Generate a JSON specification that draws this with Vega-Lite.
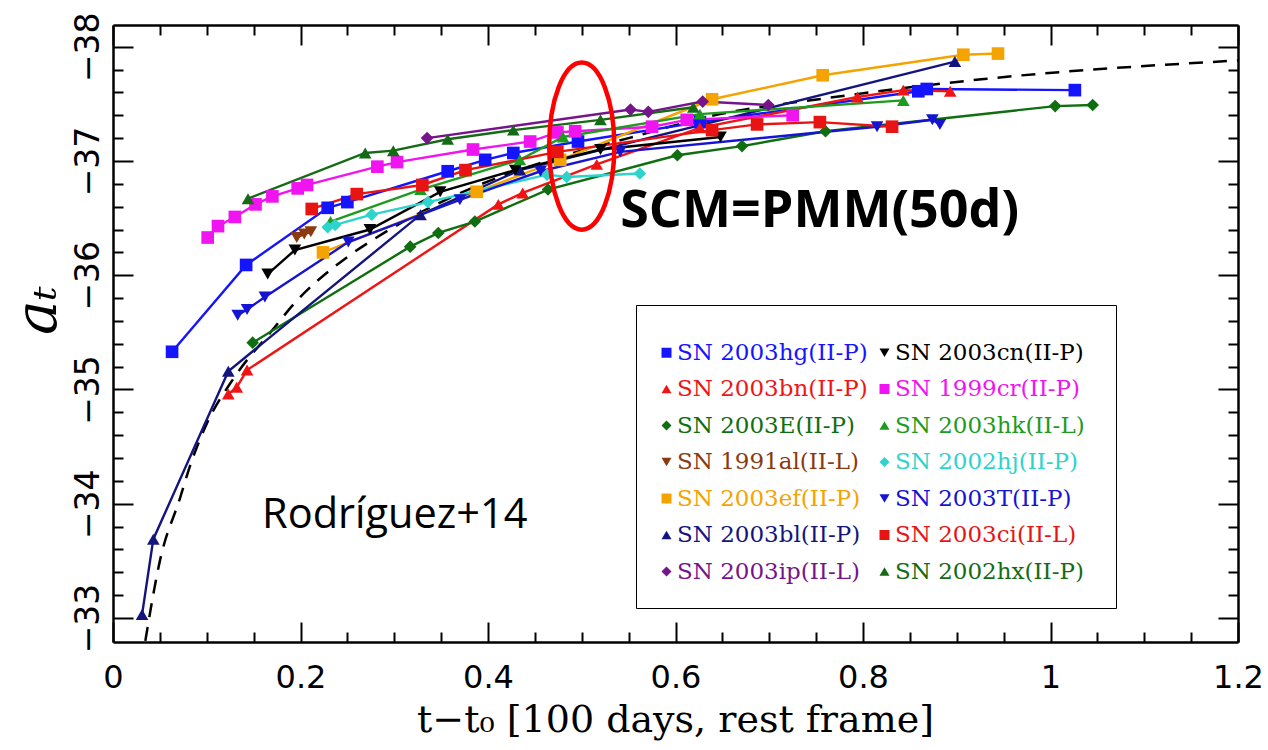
{
"$schema": "https://vega.github.io/schema/vega-lite/v6.json",
"autosize": "none",
"width": 1125, "height": 617,
"padding": {"left": 113, "top": 25, "right": 30, "bottom": 108},
"background": "white",
"config": {"view": {"stroke": null}, "axis": {"grid": false}},
"datasets": {
"sn": [
{"sn":"hg","t":0.063,"a":-35.33},{"sn":"hg","t":0.142,"a":-36.09},{"sn":"hg","t":0.229,"a":-36.59},{"sn":"hg","t":0.250,"a":-36.64},{"sn":"hg","t":0.357,"a":-36.91},{"sn":"hg","t":0.397,"a":-37.01},{"sn":"hg","t":0.427,"a":-37.07},{"sn":"hg","t":0.496,"a":-37.17},{"sn":"hg","t":0.626,"a":-37.34},{"sn":"hg","t":0.859,"a":-37.61},{"sn":"hg","t":0.868,"a":-37.63},{"sn":"hg","t":1.026,"a":-37.62},
{"sn":"bn","t":0.123,"a":-34.96},{"sn":"bn","t":0.132,"a":-35.02},{"sn":"bn","t":0.143,"a":-35.17},{"sn":"bn","t":0.411,"a":-36.62},{"sn":"bn","t":0.437,"a":-36.72},{"sn":"bn","t":0.516,"a":-36.97},{"sn":"bn","t":0.626,"a":-37.29},{"sn":"bn","t":0.794,"a":-37.56},{"sn":"bn","t":0.843,"a":-37.62},{"sn":"bn","t":0.893,"a":-37.61},
{"sn":"E","t":0.149,"a":-35.41},{"sn":"E","t":0.317,"a":-36.25},{"sn":"E","t":0.347,"a":-36.37},{"sn":"E","t":0.386,"a":-36.47},{"sn":"E","t":0.464,"a":-36.75},{"sn":"E","t":0.602,"a":-37.05},{"sn":"E","t":0.671,"a":-37.13},{"sn":"E","t":0.760,"a":-37.26},{"sn":"E","t":1.005,"a":-37.48},{"sn":"E","t":1.045,"a":-37.49},
{"sn":"al","t":0.196,"a":-36.33},{"sn":"al","t":0.204,"a":-36.36},{"sn":"al","t":0.211,"a":-36.38},
{"sn":"ef","t":0.224,"a":-36.20},{"sn":"ef","t":0.388,"a":-36.73},{"sn":"ef","t":0.477,"a":-37.01},{"sn":"ef","t":0.639,"a":-37.54},{"sn":"ef","t":0.757,"a":-37.75},{"sn":"ef","t":0.907,"a":-37.93},{"sn":"ef","t":0.944,"a":-37.94},
{"sn":"bl","t":0.031,"a":-33.03},{"sn":"bl","t":0.043,"a":-33.69},{"sn":"bl","t":0.123,"a":-35.16},{"sn":"bl","t":0.328,"a":-36.53},{"sn":"bl","t":0.434,"a":-36.92},{"sn":"bl","t":0.898,"a":-37.87},
{"sn":"ip","t":0.335,"a":-37.20},{"sn":"ip","t":0.552,"a":-37.45},{"sn":"ip","t":0.571,"a":-37.43},{"sn":"ip","t":0.629,"a":-37.52},{"sn":"ip","t":0.699,"a":-37.49},
{"sn":"cn","t":0.165,"a":-36.01},{"sn":"cn","t":0.194,"a":-36.22},{"sn":"cn","t":0.274,"a":-36.40},{"sn":"cn","t":0.349,"a":-36.73},{"sn":"cn","t":0.429,"a":-36.92},{"sn":"cn","t":0.520,"a":-37.10},{"sn":"cn","t":0.648,"a":-37.21},
{"sn":"cr","t":0.101,"a":-36.33},{"sn":"cr","t":0.112,"a":-36.43},{"sn":"cr","t":0.130,"a":-36.51},{"sn":"cr","t":0.152,"a":-36.62},{"sn":"cr","t":0.170,"a":-36.69},{"sn":"cr","t":0.197,"a":-36.76},{"sn":"cr","t":0.207,"a":-36.79},{"sn":"cr","t":0.282,"a":-36.95},{"sn":"cr","t":0.303,"a":-36.99},{"sn":"cr","t":0.384,"a":-37.10},{"sn":"cr","t":0.445,"a":-37.17},{"sn":"cr","t":0.474,"a":-37.25},{"sn":"cr","t":0.493,"a":-37.26},{"sn":"cr","t":0.575,"a":-37.30},{"sn":"cr","t":0.612,"a":-37.36},{"sn":"cr","t":0.725,"a":-37.40},
{"sn":"hk","t":0.232,"a":-36.47},{"sn":"hk","t":0.328,"a":-36.75},{"sn":"hk","t":0.434,"a":-37.01},{"sn":"hk","t":0.480,"a":-37.21},{"sn":"hk","t":0.626,"a":-37.41},{"sn":"hk","t":0.843,"a":-37.53},
{"sn":"hj","t":0.229,"a":-36.42},{"sn":"hj","t":0.237,"a":-36.44},{"sn":"hj","t":0.276,"a":-36.53},{"sn":"hj","t":0.336,"a":-36.64},{"sn":"hj","t":0.463,"a":-36.88},{"sn":"hj","t":0.484,"a":-36.86},{"sn":"hj","t":0.562,"a":-36.89},
{"sn":"T","t":0.133,"a":-35.65},{"sn":"T","t":0.143,"a":-35.70},{"sn":"T","t":0.162,"a":-35.81},{"sn":"T","t":0.251,"a":-36.29},{"sn":"T","t":0.370,"a":-36.66},{"sn":"T","t":0.456,"a":-36.91},{"sn":"T","t":0.541,"a":-37.08},{"sn":"T","t":0.815,"a":-37.30},{"sn":"T","t":0.874,"a":-37.36},{"sn":"T","t":0.882,"a":-37.32},
{"sn":"ci","t":0.212,"a":-36.58},{"sn":"ci","t":0.260,"a":-36.71},{"sn":"ci","t":0.330,"a":-36.79},{"sn":"ci","t":0.376,"a":-36.92},{"sn":"ci","t":0.474,"a":-37.08},{"sn":"ci","t":0.639,"a":-37.27},{"sn":"ci","t":0.687,"a":-37.32},{"sn":"ci","t":0.754,"a":-37.34},{"sn":"ci","t":0.831,"a":-37.30},
{"sn":"hx","t":0.144,"a":-36.67},{"sn":"hx","t":0.269,"a":-37.07},{"sn":"hx","t":0.299,"a":-37.09},{"sn":"hx","t":0.357,"a":-37.19},{"sn":"hx","t":0.427,"a":-37.27},{"sn":"hx","t":0.520,"a":-37.36},{"sn":"hx","t":0.619,"a":-37.47}
],
"model": [
{"t":0.0345,"a":-32.80},{"t":0.05,"a":-33.50},{"t":0.0715,"a":-34.05},{"t":0.0821,"a":-34.33},{"t":0.1,"a":-34.70},{"t":0.128,"a":-35.09},{"t":0.17,"a":-35.52},{"t":0.192,"a":-35.74},{"t":0.25,"a":-36.16},{"t":0.2773,"a":-36.31},{"t":0.36,"a":-36.68},{"t":0.466,"a":-37.01},{"t":0.55,"a":-37.20},{"t":0.6475,"a":-37.41},{"t":0.7616,"a":-37.55},{"t":0.9323,"a":-37.72},{"t":1.2,"a":-37.88}
],
"ellipse": [{"t":0.5,"a":-37.13}],
"notes": [
{"kind":"scm","t":0.541,"a":-36.425,"label":"SCM=PMM(50d)"},
{"kind":"rod","t":0.159,"a":-33.79,"label":"Rodríguez+14"}
]
},
"layer": [
{
"data": {"name": "model"},
"mark": {"type": "line", "color": "black", "strokeWidth": 2.5, "strokeDash": [14, 10], "interpolate": "monotone", "clip": true},
"encoding": {
"x": {"field": "t", "type": "quantitative", "scale": {"domain": [0, 1.2], "nice": false, "zero": false},
"axis": {"orient": "bottom", "values": [0, 0.2, 0.4, 0.6, 0.8, 1, 1.2], "ticks": false, "domain": true, "domainColor": "black", "domainWidth": 2.5, "labelFont": "DejaVu Sans", "labelFontSize": 32, "labelColor": "black", "labelBaseline": "alphabetic", "labelPadding": 45, "labelFlush": false, "labelOverlap": false, "labelExpr": "format(datum.value, '~g')", "title": "t−t₀ [100 days, rest frame]", "titleFont": "DejaVu Serif", "titleFontSize": 38, "titleFontWeight": "normal", "titleColor": "black", "titleBaseline": "alphabetic", "titleAlign": "center", "titleX": 562, "titleY": 89}},
"y": {"field": "a", "type": "quantitative", "scale": {"domain": [-38.19, -32.79], "nice": false, "zero": false, "reverse": true},
"axis": {"orient": "left", "values": [-38, -37, -36, -35, -34, -33], "ticks": false, "domain": true, "domainColor": "black", "domainWidth": 2.5, "labelFont": "DejaVu Sans", "labelFontSize": 33, "labelColor": "black", "labelAngle": 270, "labelAlign": "center", "labelBaseline": "alphabetic", "labelPadding": 15, "labelOverlap": false, "labelFlush": false, "format": "d", "title": "aₜ", "titleFont": "DejaVu Serif", "titleFontStyle": "italic", "titleFontWeight": "normal", "titleFontSize": 58, "titleColor": "black", "titleAngle": 270, "titleAlign": "center", "titleBaseline": "alphabetic", "titleX": -58, "titleY": 285}}
}
},
{
"data": {"name": "sn"},
"mark": {"type": "line", "strokeWidth": 2.4},
"encoding": {
"x": {"field": "t", "type": "quantitative", "scale": {"domain": [0, 1.2], "nice": false, "zero": false},
"axis": {"orient": "top", "labels": false, "ticks": false, "domain": true, "domainColor": "black", "domainWidth": 2.5, "title": null}},
"y": {"field": "a", "type": "quantitative", "scale": {"domain": [-38.19, -32.79], "nice": false, "zero": false, "reverse": true},
"axis": {"orient": "right", "labels": false, "ticks": false, "domain": true, "domainColor": "black", "domainWidth": 2.5, "title": null}},
"color": {"field": "sn", "type": "nominal",
"scale": {"domain": ["hg","bn","E","al","ef","bl","ip","cn","cr","hk","hj","T","ci","hx"],
"range": ["#1414ff","#f01414","#0f6e0f","#8b3a0f","#f5a300","#14147e","#76148c","#000000","#f014f0","#1e9b1e","#2ed3cc","#1414d2","#e81414","#156b15"]}},
"detail": {"field": "sn"},
"order": {"field": "t", "type": "quantitative"}
}
},
{
"data": {"name": "sn"},
"mark": {"type": "point", "filled": true, "size": 160, "opacity": 1},
"encoding": {
"x": {"field": "t", "type": "quantitative", "scale": {"domain": [0, 1.2], "nice": false, "zero": false},
"axis": {"orient": "bottom", "values": [0, 0.2, 0.4, 0.6, 0.8, 1, 1.2], "labels": false, "domain": false, "ticks": true, "tickSize": 20, "offset": -20, "tickWidth": 2, "tickColor": "black", "title": null}},
"y": {"field": "a", "type": "quantitative", "scale": {"domain": [-38.19, -32.79], "nice": false, "zero": false, "reverse": true},
"axis": {"orient": "left", "values": [-38, -37, -36, -35, -34, -33], "labels": false, "domain": false, "ticks": true, "tickSize": 20, "offset": -20, "tickWidth": 2, "tickColor": "black", "title": null}},
"color": {"field": "sn", "type": "nominal",
"scale": {"domain": ["hg","bn","E","al","ef","bl","ip","cn","cr","hk","hj","T","ci","hx"],
"range": ["#1414ff","#f01414","#0f6e0f","#8b3a0f","#f5a300","#14147e","#76148c","#000000","#f014f0","#1e9b1e","#2ed3cc","#1414d2","#e81414","#156b15"]},
"legend": {"orient": "none", "legendX": 523, "legendY": 280, "columns": 2, "title": " ", "titleFontSize": 1, "titlePadding": 11, "padding": 24, "strokeColor": "black", "fillColor": "white", "labelFont": "DejaVu Serif", "labelFontSize": 23, "labelLimit": 400, "symbolSize": 100, "symbolStrokeWidth": 0, "rowPadding": 12.5, "columnPadding": 3, "labelOffset": -1, "symbolOffset": -5,
"labelColor": {"expr": "scale('color', datum.value)"},
"labelExpr": "datum.value == 'hg' ? 'SN  2003hg(II-P)' : datum.value == 'cn' ? 'SN  2003cn(II-P)' : datum.value == 'bn' ? 'SN  2003bn(II-P)' : datum.value == 'cr' ? 'SN  1999cr(II-P)' : datum.value == 'E' ? 'SN  2003E(II-P)' : datum.value == 'hk' ? 'SN  2003hk(II-L)' : datum.value == 'al' ? 'SN  1991al(II-L)' : datum.value == 'hj' ? 'SN  2002hj(II-P)' : datum.value == 'ef' ? 'SN  2003ef(II-P)' : datum.value == 'T' ? 'SN  2003T(II-P)' : datum.value == 'bl' ? 'SN  2003bl(II-P)' : datum.value == 'ci' ? 'SN  2003ci(II-L)' : datum.value == 'ip' ? 'SN  2003ip(II-L)' : 'SN  2002hx(II-P)'"}},
"shape": {"field": "sn", "type": "nominal",
"scale": {"domain": ["hg","bn","E","al","ef","bl","ip","cn","cr","hk","hj","T","ci","hx"],
"range": ["square","triangle-up","diamond","triangle-down","square","triangle-up","diamond","triangle-down","square","triangle-up","diamond","triangle-down","square","triangle-up"]},
"legend": {"orient": "none", "legendX": 523, "legendY": 280, "columns": 2, "title": " "}}
}
},
{
"data": {"name": "ellipse"},
"mark": {"type": "point", "shape": "M0,-1 A0.39,1 0 1,1 0,1 A0.39,1 0 1,1 0,-1 Z", "size": 27900, "filled": false, "stroke": "#ff0000", "strokeWidth": 4.5, "opacity": 1},
"encoding": {
"x": {"field": "t", "type": "quantitative", "scale": {"domain": [0, 1.2], "nice": false, "zero": false},
"axis": {"orient": "bottom", "values": [0.05,0.1,0.15,0.25,0.3,0.35,0.45,0.5,0.55,0.65,0.7,0.75,0.85,0.9,0.95,1.05,1.1,1.15], "labels": false, "domain": false, "ticks": true, "tickSize": 10, "offset": -10, "tickWidth": 2, "tickColor": "black", "title": null}},
"y": {"field": "a", "type": "quantitative", "scale": {"domain": [-38.19, -32.79], "nice": false, "zero": false, "reverse": true},
"axis": {"orient": "left", "values": [-37.8,-37.6,-37.4,-37.2,-36.8,-36.6,-36.4,-36.2,-35.8,-35.6,-35.4,-35.2,-34.8,-34.6,-34.4,-34.2,-33.8,-33.6,-33.4,-33.2], "labels": false, "domain": false, "ticks": true, "tickSize": 10, "offset": -10, "tickWidth": 2, "tickColor": "black", "title": null}}
}
},
{
"data": {"name": "notes"},
"transform": [{"filter": "datum.kind === 'scm'"}],
"mark": {"type": "text", "font": "Open Sans", "fontWeight": "bold", "fontSize": 52, "align": "left", "baseline": "alphabetic", "color": "black"},
"encoding": {
"x": {"field": "t", "type": "quantitative", "scale": {"domain": [0, 1.2], "nice": false, "zero": false},
"axis": {"orient": "top", "values": [0, 0.2, 0.4, 0.6, 0.8, 1, 1.2], "labels": false, "domain": false, "ticks": true, "tickSize": 20, "offset": -20, "tickWidth": 2, "tickColor": "black", "title": null}},
"y": {"field": "a", "type": "quantitative", "scale": {"domain": [-38.19, -32.79], "nice": false, "zero": false, "reverse": true},
"axis": {"orient": "right", "values": [-38, -37, -36, -35, -34, -33], "labels": false, "domain": false, "ticks": true, "tickSize": 20, "offset": -20, "tickWidth": 2, "tickColor": "black", "title": null}},
"text": {"field": "label"}
}
},
{
"data": {"name": "notes"},
"transform": [{"filter": "datum.kind === 'rod'"}],
"mark": {"type": "text", "font": "Open Sans", "fontSize": 41.5, "align": "left", "baseline": "alphabetic", "color": "black"},
"encoding": {
"x": {"field": "t", "type": "quantitative", "scale": {"domain": [0, 1.2], "nice": false, "zero": false},
"axis": {"orient": "top", "values": [0.05,0.1,0.15,0.25,0.3,0.35,0.45,0.5,0.55,0.65,0.7,0.75,0.85,0.9,0.95,1.05,1.1,1.15], "labels": false, "domain": false, "ticks": true, "tickSize": 10, "offset": -10, "tickWidth": 2, "tickColor": "black", "title": null}},
"y": {"field": "a", "type": "quantitative", "scale": {"domain": [-38.19, -32.79], "nice": false, "zero": false, "reverse": true},
"axis": {"orient": "right", "values": [-37.8,-37.6,-37.4,-37.2,-36.8,-36.6,-36.4,-36.2,-35.8,-35.6,-35.4,-35.2,-34.8,-34.6,-34.4,-34.2,-33.8,-33.6,-33.4,-33.2], "labels": false, "domain": false, "ticks": true, "tickSize": 10, "offset": -10, "tickWidth": 2, "tickColor": "black", "title": null}},
"text": {"field": "label"}
}
}
],
"resolve": {"axis": {"x": "independent", "y": "independent"}}
}
